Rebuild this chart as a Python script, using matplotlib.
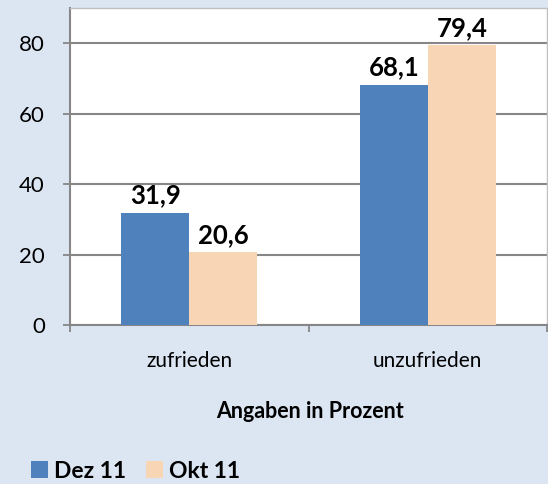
import numpy as np
import matplotlib.pyplot as plt

categories = ['zufrieden', 'unzufrieden']
series = ['Dez 11', 'Okt 11']
dez = [31.9, 68.1]
okt = [20.6, 79.4]
value_labels = [['31,9', '68,1'], ['20,6', '79,4']]
yticks = [0, 20, 40, 60, 80]

plt.rcParams['font.family'] = ['Lato', 'DejaVu Sans']

bg = '#dce6f2'
colors = ['#4f81bd', '#f8d5b4']
grid_c = '#868686'

fig = plt.figure(figsize=(5.48, 4.84), dpi=100, facecolor=bg)
ax = fig.add_axes([70 / 548, 1 - 325 / 484, 477 / 548, 317 / 484])
ax.set_facecolor('white')

x = np.arange(len(categories))
w = 0.285
for i, (vals, c) in enumerate(zip([dez, okt], colors)):
    pos = x + (i - 0.5) * w
    bars = ax.bar(pos, vals, width=w, color=c, label=series[i], zorder=3)
    for b, txt in zip(bars, value_labels[i]):
        ax.annotate(txt, (b.get_x() + b.get_width() / 2, b.get_height()),
                    xytext=(0, 4), textcoords='offset points',
                    ha='center', va='bottom', fontsize=18.5, fontweight='bold')

ax.set_xlim(-0.5, 1.5)
ax.set_ylim(0, 90)
ax.set_yticks(yticks)
ax.set_yticklabels([str(t) for t in yticks], fontsize=16)
ax.yaxis.grid(True, color=grid_c, lw=1.5, zorder=0)

ax.set_xticks([-0.5, 0.5, 1.5])
ax.set_xticklabels([])
ax.set_xticks(x, minor=True)
ax.set_xticklabels(categories, minor=True, fontsize=15)
ax.tick_params(axis='x', which='minor', length=0, pad=19)
ax.tick_params(axis='x', which='major', length=5, color=grid_c, width=1.3)
ax.tick_params(axis='y', length=5, color=grid_c, width=1.3, pad=13)

for s in ['top', 'right']:
    ax.spines[s].set_color('#c0c0c0')
    ax.spines[s].set_linewidth(1.0)
for s in ['left', 'bottom']:
    ax.spines[s].set_color(grid_c)
    ax.spines[s].set_linewidth(1.5)

fig.text(310 / 548, 1 - 411 / 484, 'Angaben in Prozent', ha='center', va='center',
         fontsize=15.5, fontweight='bold')

leg = fig.legend(loc='center left', bbox_to_anchor=(10 / 548, 1 - 471 / 484), ncol=2,
                 frameon=False, prop={'size': 16.5, 'weight': 'bold'},
                 handlelength=0.75, handleheight=0.75, handletextpad=0.25, columnspacing=0.9)

fig.savefig('out.png', dpi=100, facecolor=bg)
